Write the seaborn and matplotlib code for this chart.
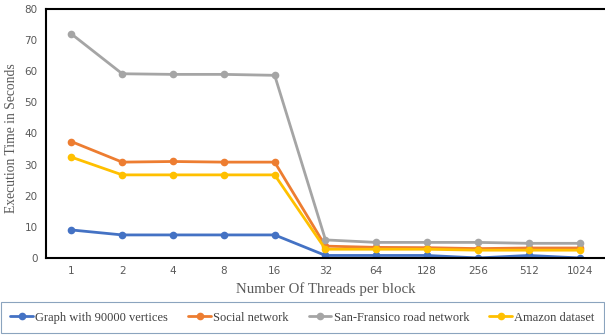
import pandas as pd
import numpy as np
import matplotlib
matplotlib.use("Agg")
import matplotlib.pyplot as plt
import seaborn as sns

threads = ['1', '2', '4', '8', '16', '32', '64', '128', '256', '512', '1024']
graph_90000 = [9.0, 7.4, 7.4, 7.4, 7.4, 0.8, 0.8, 0.8, 0.0, 0.8, 0.0]
social = [37.4, 30.8, 31.0, 30.8, 30.8, 3.8, 3.4, 3.3, 3.0, 3.2, 3.2]
sf_road = [72.0, 59.2, 59.0, 59.0, 58.7, 5.8, 5.0, 5.0, 5.0, 4.7, 4.7]
amazon = [32.4, 26.7, 26.7, 26.7, 26.7, 2.8, 2.8, 2.8, 2.5, 2.5, 2.5]

series_names = ['Graph with 90000 vertices', 'Social network', 'San-Fransico road network', 'Amazon dataset']
colors = ['#4472C4', '#ED7D31', '#A5A5A5', '#FFC000']

frames = []
for name, vals in zip(series_names, [graph_90000, social, sf_road, amazon]):
    frames.append(pd.DataFrame({'threads': threads, 'time': vals, 'dataset': name}))
df = pd.concat(frames, ignore_index=True)

sns.set_style("white")
fig = plt.figure(figsize=(6.05, 3.35), dpi=100)
ax = fig.add_axes([0.076, 0.230, 0.924, 0.743])

sns.pointplot(data=df, x='threads', y='time', hue='dataset', order=threads,
              hue_order=series_names, palette=colors, markers='o',
              markersize=4, linewidth=2, ax=ax)

ax.set_ylim(0, 80)
ax.set_yticks(range(0, 81, 10))
ax.set_xlim(-0.5, 10.5)
for side in ['left', 'top', 'bottom']:
    ax.spines[side].set_color('black')
    ax.spines[side].set_linewidth(1.5)
ax.spines['right'].set_visible(False)
ax.tick_params(axis='both', length=0, labelsize=7.5, labelcolor='#595959', pad=6)
for lab in ax.get_xticklabels() + ax.get_yticklabels():
    lab.set_family('DejaVu Sans')

ax.set_xlabel('Number Of Threads per block', family='Liberation Serif', fontsize=10.7, color='#595959', labelpad=4)
ax.set_ylabel('Execution Time in Seconds', family='Liberation Serif', fontsize=9.8, color='#595959')
ax.yaxis.set_label_coords(-0.05, 0.48)

handles, labels = ax.get_legend_handles_labels()
ax.get_legend().remove()
leg = fig.legend(handles, labels, loc='lower center', bbox_to_anchor=(0.5, 0.006), ncol=4,
                 frameon=True, fancybox=False, prop={'family': 'Liberation Serif', 'size': 9},
                 columnspacing=1.6, handlelength=1.8, handletextpad=0.2, borderpad=0.75,
                 borderaxespad=0.0)
leg.get_frame().set_edgecolor('#6E8DAE')
leg.get_frame().set_linewidth(0.8)
for t in leg.get_texts():
    t.set_color('#404040')

fig.savefig('out.png', dpi=100)
